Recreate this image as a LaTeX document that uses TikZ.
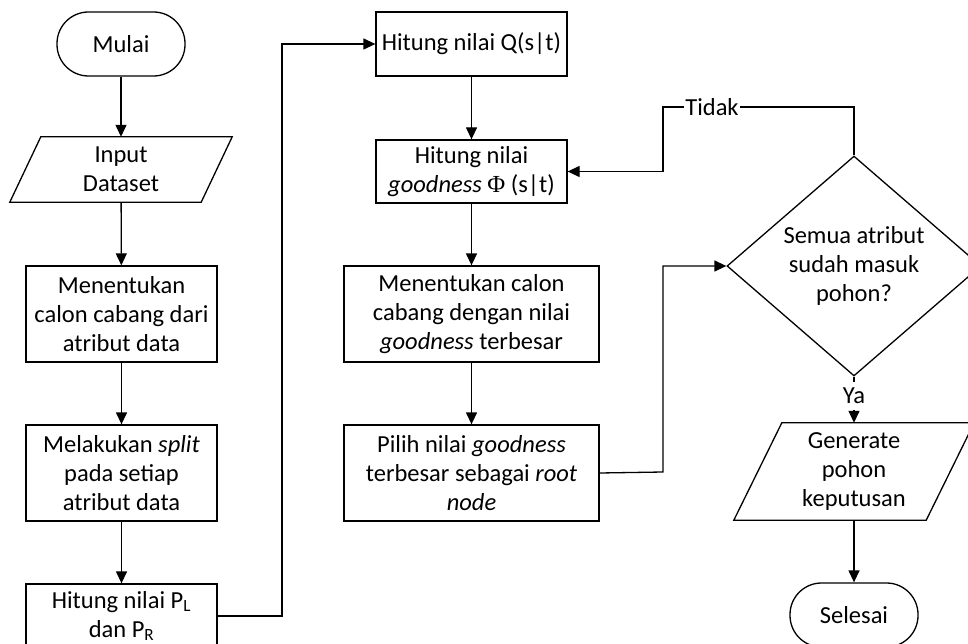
\documentclass[tikz,border=0pt]{standalone}
\usepackage{fontspec}
\setmainfont{Carlito}
\newfontfamily\phifont{Liberation Serif}
\usetikzlibrary{shapes.geometric,arrows.meta,calc}
\begin{document}
\begin{tikzpicture}[x=1pt,y=-1pt,
  every node/.style={font=\fontsize{24.5}{29}\selectfont, align=center, inner sep=1pt},
  ln/.style={line width=1.3pt},
  arr/.style={ln,-{Triangle[length=12pt,width=11pt]}},
  procbox/.style={draw, ln, rectangle, minimum width=191, minimum height=96},
  termbox/.style={draw, ln, rectangle, rounded corners=31.5, minimum width=128, minimum height=64},
  iobox/.style={rectangle, minimum width=191, minimum height=65},
  decbox/.style={draw, ln, diamond, minimum width=254, minimum height=190, inner sep=0pt},
  lbl/.style={fill=white, inner sep=1pt}]
\useasboundingbox (0,0) rectangle (968,644);
\fill[white] (0,0) rectangle (968,644);

\node[termbox] (start) at (121,44) {Mulai};
\node[iobox] (in) at (121,169.5) {Input\\Dataset};
\draw[ln] ([xshift=15.5]in.north west) -- ([xshift=15.5]in.north east) -- ([xshift=-15.5]in.south east) -- ([xshift=-15.5]in.south west) -- cycle;
\node[procbox] (b1) at (121.5,314) {Menentukan\\calon cabang dari\\atribut data};
\node[procbox] (b2) at (121.5,473) {Melakukan \textit{split}\\pada setiap\\atribut data};
\node[procbox, minimum height=64] (b3) at (121.5,616) {Hitung nilai P\textsubscript{L}\\dan P\textsubscript{R}};

\node[procbox, minimum height=64] (q) at (471.5,44) {Hitung nilai Q(s|t)};
\node[procbox, minimum height=63] (g) at (471.5,171.5) {Hitung nilai\\\textit{goodness} {\phifont Φ} (s|t)};
\node[procbox, minimum width=255] (m) at (471.5,314) {Menentukan calon\\cabang dengan nilai\\\textit{goodness} terbesar};
\node[procbox, minimum width=255] (p) at (471.5,473) {Pilih nilai \textit{goodness}\\terbesar sebagai \textit{root}\\\textit{node}};

\node[decbox] (d) at (854,266) {Semua atribut\\sudah masuk\\pohon?};
\node[iobox, minimum width=192, minimum height=97] (gen) at (854,471.5) {Generate\\pohon\\keputusan};
\draw[ln] ([xshift=24]gen.north west) -- ([xshift=24]gen.north east) -- ([xshift=-24]gen.south east) -- ([xshift=-24]gen.south west) -- cycle;
\node[termbox] (end) at (854,615) {Selesai};

\coordinate (c1) at (282,616);
\coordinate (c2) at (663,472);
\coordinate (tk) at (663,107);

\draw[arr] (start) -- (in);
\draw[arr] (in) -- (b1);
\draw[arr] (b1) -- (b2);
\draw[arr] (b2) -- (b3);
\draw[arr] (b3.east) -- (c1) |- (q.west);
\draw[arr] (q) -- (g);
\draw[arr] (g) -- (m);
\draw[arr] (m) -- (p);
\draw[arr] (p.east) -- (c2) |- (d.west);
\draw[arr] (d.north) |- (tk) |- (g.east);
\node[lbl] (tidak) at (712,107) {Tidak};
\draw[arr] (d.south) -- (gen.north);
\node[lbl, inner ysep=6pt, inner xsep=3pt] (ya) at (854,396) {Ya};
\draw[arr] (gen) -- (end);
\end{tikzpicture}
\end{document}
